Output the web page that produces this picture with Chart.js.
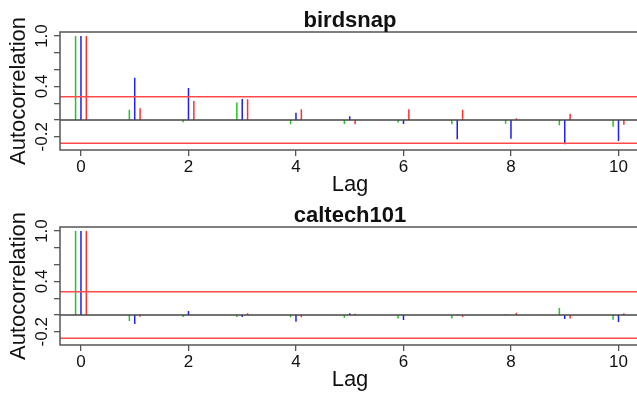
<!DOCTYPE html>
<html lang="en">
<head>
<meta charset="UTF-8">
<title>Autocorrelation</title>
<script src="https://cdn.jsdelivr.net/npm/chart.js"></script>
<style>
  body { margin: 0; background: #fff; overflow: hidden; width: 637px; height: 397px; position: relative; }
  canvas { position: absolute; left: 0; }
  #acfBirdsnap { top: 0; }
  #acfCaltech { top: 195px; }
</style>
</head>
<body>
<canvas id="acfBirdsnap" width="640" height="200"></canvas>
<canvas id="acfCaltech" width="640" height="200"></canvas>

<script>
// lags and autocorrelations for the three chains of each dataset
const lags = [0, 1, 2, 3, 4, 5, 6, 7, 8, 9, 10];

const birdsnapGreen = [1, 0.123, -0.028, 0.21, -0.05, -0.048, -0.03, -0.05, -0.044, -0.063, -0.079];
const birdsnapBlue  = [1, 0.504, 0.381, 0.25, 0.087, 0.044, -0.048, -0.23, -0.222, -0.29, -0.25];
const birdsnapRed   = [1, 0.139, 0.226, 0.246, 0.127, -0.05, 0.127, 0.123, 0.02, 0.075, -0.056];

const caltechGreen = [1, -0.072, -0.024, -0.024, -0.028, -0.032, -0.04, -0.04, 0.012, 0.084, -0.056];
const caltechBlue  = [1, -0.108, 0.048, -0.024, -0.08, 0.02, -0.06, 0.004, 0, -0.048, -0.084];
const caltechRed   = [1, -0.02, -0.004, 0.02, -0.028, 0.016, 0, -0.024, 0.028, -0.04, 0.02];

// significance band
const ciBound = 0.277;

const xTicks = [0, 2, 4, 6, 8, 10];
const yTicks = [-0.2, 0, 0.2, 0.4, 0.6, 0.8, 1.0];
const yLabelValues = [-0.2, 0.4, 1.0];
const yLabelText = ["-0.2", "0.4", "1.0"];

const xMin = -0.39, xMax = 10.4;
const yMin = -0.357, yMax = 1.048;

const FONT = '"Liberation Sans", Arial, Helvetica, sans-serif';

// vertical spikes from 0 to the value, split by null gaps
function spikes(values, shift) {
  const pts = [];
  lags.forEach((lag, i) => {
    pts.push({ x: lag + shift, y: 0 }, { x: lag + shift, y: values[i] }, { x: lag + shift, y: null });
  });
  return pts;
}

function hline(y) {
  return [{ x: xMin, y: y }, { x: xMax, y: y }];
}

// box, title and rotated y labels, R style
const acfDecor = {
  id: 'acfDecor',
  afterDraw(chart, args, opts) {
    const { ctx, chartArea: a, scales: { y } } = chart;
    ctx.save();
    ctx.strokeStyle = '#555';
    ctx.lineWidth = 1.5;
    ctx.strokeRect(a.left, a.top, a.right - a.left, a.bottom - a.top);

    ctx.fillStyle = '#111';
    ctx.textAlign = 'center';
    ctx.textBaseline = 'alphabetic';
    ctx.font = 'bold 22px ' + FONT;
    ctx.fillText(opts.title, (a.left + a.right) / 2, 26.5);

    ctx.font = '17px ' + FONT;
    yLabelValues.forEach((v, i) => {
      ctx.save();
      ctx.translate(46.5, y.getPixelForValue(v));
      ctx.rotate(-Math.PI / 2);
      ctx.fillText(yLabelText[i], 0, 0);
      ctx.restore();
    });
    ctx.restore();
  }
};

function acfChart(id, title, green, blue, red) {
  const line = (data, color, width) => ({
    data: data,
    showLine: true,
    spanGaps: false,
    borderColor: color,
    borderWidth: width,
    borderCapStyle: 'butt',
    pointRadius: 0,
  });

  return new Chart(document.getElementById(id), {
    type: 'scatter',
    data: {
      datasets: [
        line(hline(ciBound), '#ff4a4a', 1.4),
        line(hline(-ciBound), '#ff4a4a', 1.4),
        line(hline(0), '#444', 1.5),
        line(spikes(green, -0.1), '#1ec81e', 1.5),
        line(spikes(blue, 0), '#2020f0', 1.5),
        line(spikes(red, 0.1), '#ff3030', 1.5),
      ]
    },
    options: {
      responsive: false,
      animation: false,
      events: [],
      layout: { padding: { top: 32, right: 0, bottom: 0, left: 0 } },
      plugins: {
        legend: { display: false },
        tooltip: { enabled: false },
        acfDecor: { title: title },
      },
      scales: {
        x: {
          type: 'linear',
          min: xMin,
          max: xMax,
          afterBuildTicks: (s) => { s.ticks = xTicks.map(v => ({ value: v })); },
          afterFit: (s) => { s.height = 50; },
          border: { display: false },
          grid: { drawOnChartArea: false, drawTicks: true, tickLength: 6, color: '#555', lineWidth: 1.3 },
          ticks: { color: '#111', font: { family: FONT, size: 17 }, padding: 1, maxRotation: 0, callback: (v) => String(v) },
          title: { display: true, text: 'Lag', color: '#111', font: { family: FONT, size: 22 }, padding: { top: 0, bottom: 2 } },
        },
        y: {
          min: yMin,
          max: yMax,
          afterBuildTicks: (s) => { s.ticks = yTicks.map(v => ({ value: v })); },
          afterFit: (s) => { s.width = 60; },
          border: { display: false },
          grid: { drawOnChartArea: false, drawTicks: true, tickLength: 6, color: '#555', lineWidth: 1.3 },
          ticks: { callback: () => '' },
          title: { display: true, text: 'Autocorrelation', color: '#111', font: { family: FONT, size: 22 }, padding: { top: 6, bottom: 0 } },
        }
      }
    },
    plugins: [acfDecor]
  });
}

acfChart('acfBirdsnap', 'birdsnap', birdsnapGreen, birdsnapBlue, birdsnapRed);
acfChart('acfCaltech', 'caltech101', caltechGreen, caltechBlue, caltechRed);
</script>
</body>
</html>
